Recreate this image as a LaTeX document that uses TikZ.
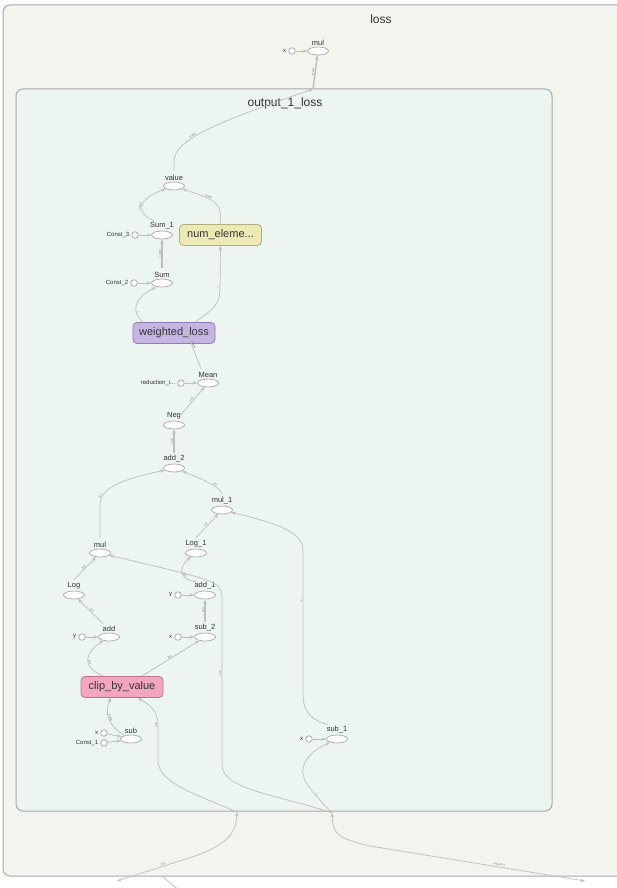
\documentclass[tikz,border=0pt]{standalone}
\usepackage{fontspec}
\setmainfont{Liberation Sans}
\usetikzlibrary{shapes.geometric, arrows.meta, positioning}

\definecolor{lossbg}{HTML}{F1F5EE}
\definecolor{innerbg}{HTML}{EDF5F0}
\definecolor{boxline}{HTML}{A9A9A9}
\definecolor{edgegray}{HTML}{BDBDBD}
\definecolor{opline}{HTML}{A6A6A6}
\definecolor{numfill}{HTML}{EDE9B5}
\definecolor{numline}{HTML}{B3AF7C}
\definecolor{wlfill}{HTML}{C6B5E3}
\definecolor{wlline}{HTML}{8E7DAE}
\definecolor{clipfill}{HTML}{F3A6C1}
\definecolor{clipline}{HTML}{C0718E}

\begin{document}
\begin{tikzpicture}[
  x=1pt, y=-1pt,
  groupbox/.style={draw=boxline, line width=1pt, rounded corners=7pt},
  grouptitle/.style={font=\fontsize{12}{14}\selectfont, text=black!80},
  oplbl/.style={font=\fontsize{7.5}{9}\selectfont, text=black!80, inner sep=1pt},
  cstlbl/.style={font=\fontsize{6}{7}\selectfont, text=black!80, inner sep=1pt},
  op/.style={
    draw=opline, fill=white, ellipse, line width=0.7pt,
    minimum width=21pt, minimum height=8pt, inner sep=0pt,
    label={[oplbl]above:#1}
    },
  cst/.style={
    draw=opline, fill=white, circle, line width=0.7pt,
    minimum size=6.5pt, inner sep=0pt,
    label={[cstlbl, label distance=1pt]left:#1}
    },
  meta/.style={
    draw=#1line, fill=#1fill, rounded corners=4pt, line width=0.8pt,
    minimum width=82pt, minimum height=21pt, inner sep=0pt,
    font=\fontsize{11}{13}\selectfont, text=black!80
    },
  edge/.style={draw=edgegray, line width=0.7pt, -{Stealth[length=4.5pt,width=3.5pt]}},
  thickedge/.style={edge, line width=1.4pt},
  elbl/.style={font=\fontsize{2.8}{3}\selectfont, text=black!55, inner sep=0pt}
]
\useasboundingbox (0,0) rectangle (616,888);

% group boxes
\draw[groupbox, fill=lossbg] (3,5) rectangle (640,876);
\node[grouptitle] (lossT) at (381,19) {loss};
\draw[groupbox, fill=innerbg] (16,89) rectangle (552,811);
\node[grouptitle] (outT) at (285,103) {output\_1\_loss};
\draw[white, line width=1pt] (541,97) -- (547,97);

% boundary points of the group
\coordinate (inTop) at (313,89);
\coordinate (inBotA) at (237,812);
\coordinate (inBotB) at (332,813);
\coordinate (outL) at (117,881);
\coordinate (outR) at (585,881);
\coordinate (outMa) at (163,877);
\coordinate (outMb) at (180,891);

% ops
\node[op=mul] (mulTop) at (318,51) {};
\node[cst=x] (xTop) at (292,51) {};
\node[op=value] (value) at (174,186) {};
\node[op=Sum\_1] (sumOne) at (162,235) {};
\node[cst=Const\_3] (cThree) at (135,235) {};
\node[meta=num] (num) at (220.5,235) {num\_eleme...};
\node[op=Sum] (sum) at (162,283) {};
\node[cst=Const\_2] (cTwo) at (134,283) {};
\node[meta=wl] (wl) at (174,333) {weighted\_loss};
\node[op=Mean] (mean) at (208,383) {};
\node[cst=reduction\_i...] (red) at (181,383) {};
\node[op=Neg] (neg) at (174,425) {};
\node[op=add\_2] (addTwo) at (174,468) {};
\node[op=mul\_1] (mulOne) at (222,510) {};
\node[op=mul] (mulLow) at (100,553) {};
\node[op=Log\_1] (logOne) at (196,553) {};
\node[op=Log] (logN) at (74,595) {};
\node[op=add\_1] (addOne) at (205,595) {};
\node[cst=y] (yOne) at (178,595) {};
\node[op=sub\_2] (subTwo) at (205,637) {};
\node[cst=x] (xTwo) at (178,637) {};
\node[op=add] (addN) at (109,637) {};
\node[cst=y] (yN) at (82,637) {};
\node[meta=clip] (clip) at (122,687) {clip\_by\_value};
\node[op=sub] (subN) at (131,739) {};
\node[cst=x] (xSub) at (104,733) {};
\node[cst=Const\_1] (cOne) at (104,743) {};
\node[op=sub\_1] (subOne) at (337,739) {};
\node[cst=x] (xOne) at (309,739) {};

% constant inputs
\foreach \c/\o in {xTop/mulTop, cThree/sumOne, cTwo/sum, red/mean, yOne/addOne,
                   xTwo/subTwo, yN/addN, xSub/subN, cOne/subN, xOne/subOne}
  \draw[edge] (\c) -- (\o);

% edges, top part
\draw[thickedge] (inTop) -- node[elbl, sloped, above=0.5pt] {scalar} (mulTop);
\draw[edge] ([yshift=11pt]value.north) -- (174,162) .. controls (174,140) and (210,125) .. node[elbl, sloped, above=0.5pt, pos=0.4] {scalar} (inTop);
\draw[edge] ([xshift=-8pt, yshift=10pt]sumOne.north) .. controls (138,215) and (134,200) .. node[elbl, sloped, above=0.5pt] {scalar} (value);
\draw[edge] (num.north) -- (220,212) .. controls (220,200) and (200,195) .. node[elbl, sloped, above=0.5pt] {scalar} (value);
\draw[thickedge] ([yshift=11pt]sum.north) -- node[elbl, sloped, above=0.5pt] {scalar} (sumOne);
\draw[edge] ([xshift=-31pt]wl.north) .. controls (130,312) and (135,297) .. node[elbl, sloped, above=0.5pt, pos=0.3] {?} ([xshift=-6pt]sum.south);
\draw[edge] ([xshift=21pt]wl.north) .. controls (210,312) and (220,305) .. (220,290) -- node[elbl, sloped, above=0.5pt, pos=0.05] {?} (num.south);
\draw[edge] ([xshift=-7pt, yshift=10pt]mean.north) -- node[elbl, sloped, above=0.5pt] {scalar} ([xshift=9pt]wl.north);
\draw[edge] ([xshift=7pt, yshift=6pt]neg.north) -- node[elbl, sloped, above=0.5pt] {2x2} (mean);
\draw[thickedge] ([yshift=11pt]addTwo.north) -- node[elbl, sloped, above=0.5pt] {2x2} (neg);

% edges, lower part
\draw[edge] ([yshift=11pt]mulOne.north) .. controls (222,488) and (205,480) .. node[elbl, sloped, above=0.5pt, pos=0.4] {2x2} (addTwo);
\draw[edge] ([yshift=11pt]mulLow.north) -- (100,505) .. controls (100,485) and (130,478) .. node[elbl, sloped, above=0.5pt, pos=0.15] {2x2} (addTwo);
\draw[edge] ([yshift=11pt]logOne.north) -- node[elbl, sloped, above=0.5pt] {2x2} (mulOne);
\draw[edge] ([yshift=11pt]logN.north) -- node[elbl, sloped, above=0.5pt] {2x2} (mulLow);
\draw[edge] ([xshift=-9pt, yshift=9pt]addOne.north) .. controls (180,580) and (177,568) .. node[elbl, sloped, above=0.5pt, pos=0.4] {2x2} (logOne);
\draw[thickedge] ([yshift=11pt]subTwo.north) -- node[elbl, sloped, above=0.5pt] {2x2} (addOne);
\draw[edge] ([xshift=-6pt, yshift=9pt]addN.north) -- node[elbl, sloped, above=0.5pt] {2x2} (logN);
\draw[edge] ([xshift=-19pt]clip.north) .. controls (80,666) and (86,652) .. node[elbl, sloped, above=0.5pt, pos=0.4] {2x2} (addN);
\draw[edge] ([xshift=20pt]clip.north) -- node[elbl, sloped, above=0.5pt] {2x2} (subTwo);
\draw[edge] (subN) .. controls (108,726) and (104,712) .. node[elbl, sloped, above=0.5pt, pos=0.5] {scalar} ([xshift=-11pt]clip.south);
\draw[edge] (inBotA) .. controls (190,792) and (158,782) .. (158,760) -- (158,725) .. controls (158,710) and (148,704) .. node[elbl, sloped, above=0.5pt, pos=0] {2x2} ([xshift=16pt]clip.south);
\draw[edge] (inBotB) .. controls (280,795) and (222,790) .. (222,765) -- node[elbl, sloped, above=0.5pt, pos=0.55] {2x2} (222,598) .. controls (222,580) and (212,580) .. (mulLow);
\draw[edge] (inBotB) .. controls (315,795) and (300,780) .. node[elbl, sloped, above=0.5pt, pos=0.35] {?} (303,768) .. controls (306,755) and (318,748) .. (subOne);
\draw[edge] ([xshift=-9pt, yshift=10pt]subOne.north) .. controls (310,720) and (303,710) .. (303,695) -- node[elbl, sloped, above=0.5pt, pos=0.65] {2} (303,550) .. controls (303,530) and (270,522) .. (mulOne);

% edges crossing the outer group
\draw[edge, {Stealth[length=4.5pt,width=3.5pt]}-{Stealth[length=4.5pt,width=3.5pt]}]
  (outL) -- node[elbl, sloped, above=0.5pt, pos=0.6] {2x2} (195,856) .. controls (225,845) and (236,835) .. (inBotA);
\draw[edge, {Stealth[length=4.5pt,width=3.5pt]}-{Stealth[length=4.5pt,width=3.5pt]}]
  (inBotB) .. controls (333,835) and (338,838) .. (370,846) -- node[elbl, sloped, above=0.5pt, pos=0.6] {outputs:2} (outR);
\draw[edge, -] (outMa) -- (outMb);

\end{tikzpicture}
\end{document}
